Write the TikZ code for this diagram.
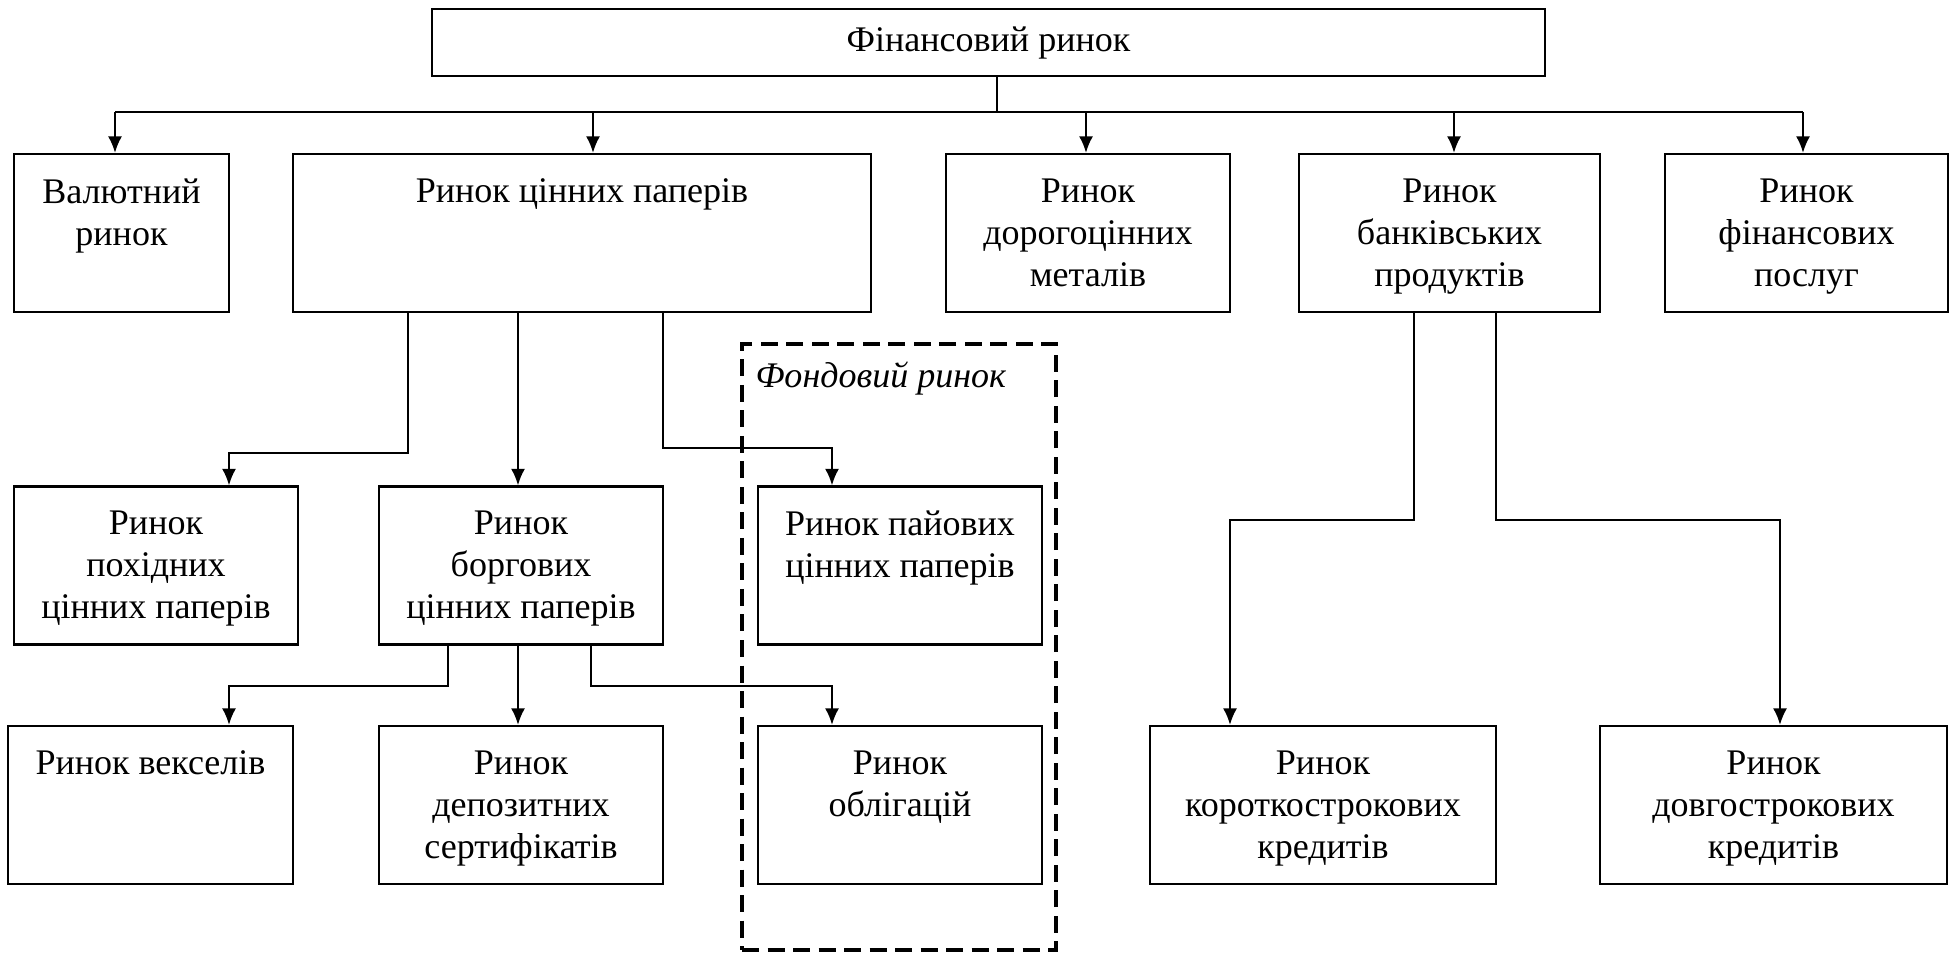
\documentclass[tikz,border=0pt]{standalone}
\usepackage{fontspec}
\setmainfont{Liberation Serif}
\usetikzlibrary{arrows.meta}

\begin{document}
\begin{tikzpicture}[>={Latex[length=3.3mm,width=2.8mm]}, line width=1.25pt,
  font=\fontsize{20.5}{24}\selectfont,
  box/.style={draw, minimum height=3.16cm, inner sep=0pt},
  txt/.style={anchor=north, align=center, inner sep=0pt, yshift=-0.49cm},
  fondbox/.style={draw, line width=1.8pt, dash pattern=on 0.34cm off 0.17cm, inner sep=0pt}]
  \useasboundingbox (0,0) rectangle (39.04,-19.04);

  % top level
  \node[draw, minimum width=22.26cm, minimum height=1.34cm] (fin) at (19.77,-0.85) {Фінансовий ринок};

  % first row
  \node[box, minimum width=4.30cm, label={[txt]north:{Валютний\\ринок}}] (val) at (2.43,-4.66) {};
  \node[box, minimum width=11.56cm, label={[txt]north:{Ринок цінних паперів}}] (cp) at (11.64,-4.66) {};
  \node[box, minimum width=5.68cm, label={[txt]north:{Ринок\\дорогоцінних\\металів}}] (dm) at (21.76,-4.66) {};
  \node[box, minimum width=6.02cm, label={[txt]north:{Ринок\\банківських\\продуктів}}] (bp) at (28.99,-4.66) {};
  \node[box, minimum width=5.66cm, label={[txt]north:{Ринок\\фінансових\\послуг}}] (fp) at (36.13,-4.66) {};

  % second row
  \node[box, minimum width=5.68cm, label={[txt]north:{Ринок\\похідних\\цінних паперів}}] (ph) at (3.12,-11.31) {};
  \node[box, minimum width=5.68cm, label={[txt]north:{Ринок\\боргових\\цінних паперів}}] (bg) at (10.42,-11.31) {};
  \node[box, minimum width=5.68cm, label={[txt]north:{Ринок пайових\\цінних паперів}}] (pv) at (18.00,-11.31) {};

  % third row
  \node[box, minimum width=5.70cm, label={[txt]north:{Ринок векселів}}] (vk) at (3.01,-16.10) {};
  \node[box, minimum width=5.68cm, label={[txt]north:{Ринок\\депозитних\\сертифікатів}}] (dp) at (10.42,-16.10) {};
  \node[box, minimum width=5.68cm, label={[txt]north:{Ринок\\облігацій}}] (ob) at (18.00,-16.10) {};
  \node[box, minimum width=6.92cm, label={[txt]north:{Ринок\\короткострокових\\кредитів}}] (ks) at (26.46,-16.10) {};
  \node[box, minimum width=6.94cm, label={[txt]north:{Ринок\\довгострокових\\кредитів}}] (ds) at (35.47,-16.10) {};

  % stock market frame
  \node[fondbox, minimum width=6.28cm, minimum height=12.12cm] (fond) at (17.98,-12.94) {};
  \node[anchor=west, inner sep=0pt, font=\fontsize{20.5}{24}\selectfont\itshape] (fondl) at ([shift={(0.28,-0.72)}]fond.north west) {Фондовий ринок};

  % bus under the top box
  \coordinate (t) at ([xshift=0.17cm]fin.south);
  \coordinate (b1) at (2.30,-2.24);
  \coordinate (b2) at (11.86,-2.24);
  \coordinate (b3) at (21.72,-2.24);
  \coordinate (b4) at (29.08,-2.24);
  \coordinate (b5) at (36.06,-2.24);
  \draw (t) -- (t |- b1);
  \draw (b1) -- (b5);
  \draw[->] (b1) -- (b1 |- val.north);
  \draw[->] (b2) -- (b2 |- cp.north);
  \draw[->] (b3) -- (b3 |- dm.north);
  \draw[->] (b4) -- (b4 |- bp.north);
  \draw[->] (b5) -- (b5 |- fp.north);

  % securities
  \coordinate (c1) at ([xshift=-3.48cm]cp.south);
  \coordinate (c2) at ([xshift=-1.28cm]cp.south);
  \coordinate (c3) at ([xshift=1.62cm]cp.south);
  \draw[->] (c1) -- ++(0,-2.80) -| ([xshift=1.46cm]ph.north);
  \draw[->] (c2) -- (c2 |- bg.north);
  \draw[->] (c3) -- ++(0,-2.70) -| ([xshift=-1.36cm]pv.north);

  % debt securities
  \coordinate (d1) at ([xshift=-1.46cm]bg.south);
  \coordinate (d3) at ([xshift=1.40cm]bg.south);
  \draw[->] (d1) -- ++(0,-0.80) -| ([xshift=1.57cm]vk.north);
  \draw[->] (c2 |- bg.south) -- (c2 |- dp.north);
  \draw[->] (d3) -- ++(0,-0.80) -| ([xshift=-1.36cm]ob.north);

  % bank products
  \coordinate (e1) at ([xshift=-0.71cm]bp.south);
  \coordinate (e2) at ([xshift=0.93cm]bp.south);
  \draw[->] (e1) -- ++(0,-4.14) -| ([xshift=-1.86cm]ks.north);
  \draw[->] (e2) -- ++(0,-4.14) -| ([xshift=0.13cm]ds.north);
\end{tikzpicture}
\end{document}
